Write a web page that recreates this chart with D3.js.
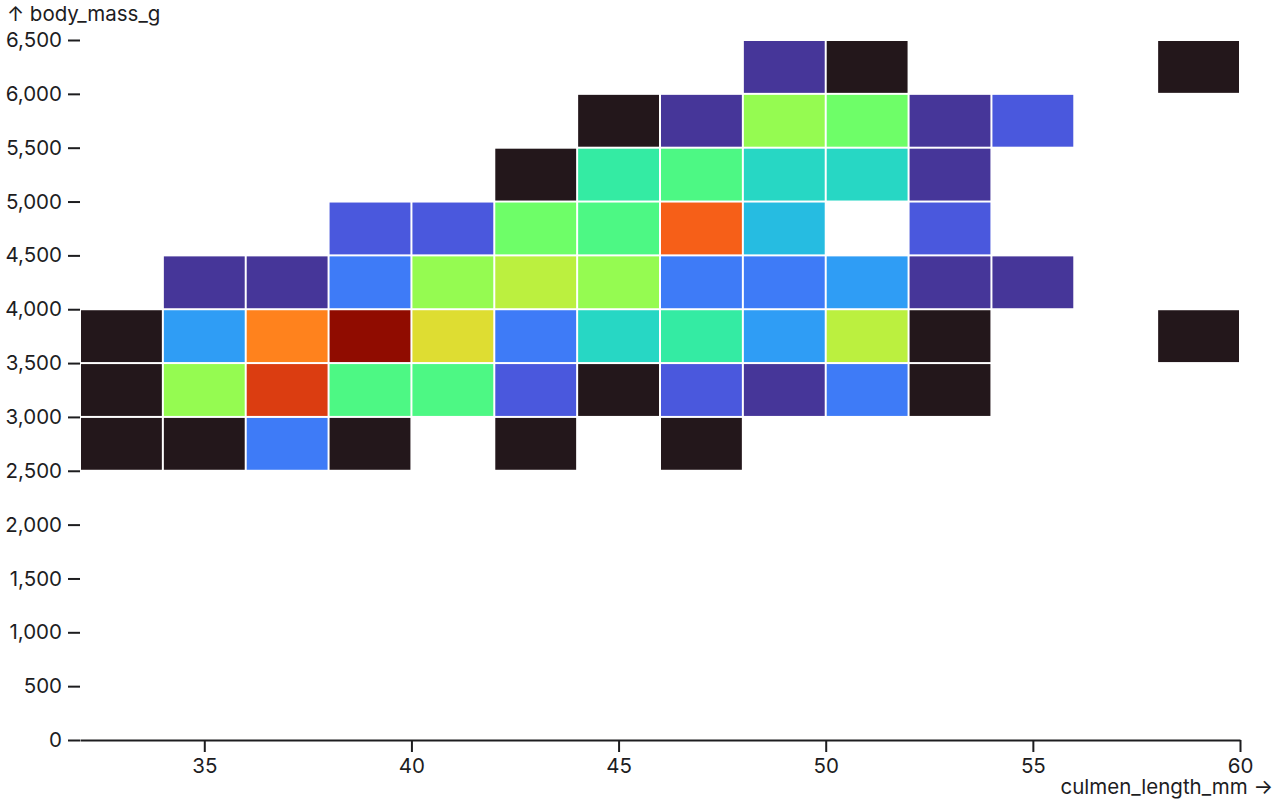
<!DOCTYPE html>
<html>
<head>
<meta charset="utf-8">
<script src="https://cdn.jsdelivr.net/npm/d3@7"></script>
<style>
  html, body { margin: 0; padding: 0; background: #fff; }
  svg { display: block; font-family: Inter, "Helvetica Neue", Arial, sans-serif; }
</style>
</head>
<body>
<svg id="chart" width="1280" height="800"></svg>
<script>
// Bin starts (bin width: 2 mm, 500 g)
const culmenBins = [32, 34, 36, 38, 40, 42, 44, 46, 48, 50, 52, 54, 56, 58];
const massBins = [2500, 3000, 3500, 4000, 4500, 5000, 5500, 6000];
// Counts per body-mass bin, aligned with culmenBins (0 = empty bin)
const counts2500 = [1, 1, 4, 1, 0, 1, 0, 1, 0, 0, 0, 0, 0, 0];
const counts3000 = [1, 11, 18, 9, 9, 3, 1, 3, 2, 4, 1, 0, 0, 0];
const counts3500 = [1, 5, 16, 21, 13, 4, 7, 8, 5, 12, 1, 0, 0, 1];
const counts4000 = [0, 2, 2, 4, 11, 12, 11, 4, 4, 5, 2, 2, 0, 0];
const counts4500 = [0, 0, 0, 3, 3, 10, 9, 17, 6, 0, 3, 0, 0, 0];
const counts5000 = [0, 0, 0, 0, 0, 1, 8, 9, 7, 7, 2, 0, 0, 0];
const counts5500 = [0, 0, 0, 0, 0, 0, 1, 2, 11, 10, 2, 3, 0, 0];
const counts6000 = [0, 0, 0, 0, 0, 0, 0, 0, 2, 1, 0, 0, 0, 1];
const countRows = [counts2500, counts3000, counts3500, counts4000, counts4500, counts5000, counts5500, counts6000];
const xTicks = [35, 40, 45, 50, 55, 60];
const yTicks = [0, 500, 1000, 1500, 2000, 2500, 3000, 3500, 4000, 4500, 5000, 5500, 6000, 6500];
const xLabel = "culmen_length_mm →";
const yLabel = "↑ body_mass_g";

const width = 1280, height = 800;
const margin = {top: 40, right: 40, bottom: 60, left: 80};
const binW = 2, binH = 500;
const fs = 20.5;

const cells = [];
countRows.forEach((row, i) => {
  row.forEach((c, j) => {
    if (c > 0) cells.push({x0: culmenBins[j], x1: culmenBins[j] + binW, y0: massBins[i], y1: massBins[i] + binH, count: c});
  });
});

const x = d3.scaleLinear().domain([32, 60]).range([margin.left, width - margin.right]);
const y = d3.scaleLinear().domain([0, 6500]).range([height - margin.bottom, margin.top]);
const color = d3.scaleSequential(d3.interpolateTurbo).domain(d3.extent(cells, d => d.count));

const svg = d3.select("#chart");
const ink = "#1d1d1f";
const inset = 1;

// cells
svg.append("g")
  .selectAll("rect")
  .data(cells)
  .join("rect")
  .attr("x", d => x(d.x0) + inset)
  .attr("width", d => x(d.x1) - x(d.x0) - 2 * inset)
  .attr("y", d => y(d.y1) + inset)
  .attr("height", d => y(d.y0) - y(d.y1) - 2 * inset)
  .attr("fill", d => color(d.count));

// y axis
const yAxis = svg.append("g")
  .attr("transform", `translate(${margin.left},0)`)
  .call(d3.axisLeft(y).tickValues(yTicks).tickFormat(d3.format(",")).tickSize(12).tickPadding(6));
yAxis.attr("font-family", null);
yAxis.select(".domain").remove();
yAxis.selectAll(".tick line").attr("stroke", ink).attr("stroke-width", 2);
yAxis.selectAll(".tick text").attr("fill", ink).attr("font-size", fs);

// x axis
const xAxis = svg.append("g")
  .attr("transform", `translate(0,${height - margin.bottom})`)
  .call(d3.axisBottom(x).tickValues(xTicks).tickSize(12).tickPadding(6).tickSizeOuter(0));
xAxis.attr("font-family", null);
xAxis.select(".domain").attr("stroke", ink).attr("stroke-width", 2);
xAxis.selectAll(".tick line").attr("stroke", ink).attr("stroke-width", 2);
xAxis.selectAll(".tick text").attr("fill", ink).attr("font-size", fs);

// axis labels
svg.append("text")
  .attr("x", 7).attr("y", 21)
  .attr("font-size", fs).attr("fill", ink)
  .text(yLabel);
svg.append("text")
  .attr("x", 1273).attr("y", 794)
  .attr("text-anchor", "end")
  .attr("font-size", fs).attr("fill", ink)
  .text(xLabel);
</script>
</body>
</html>
